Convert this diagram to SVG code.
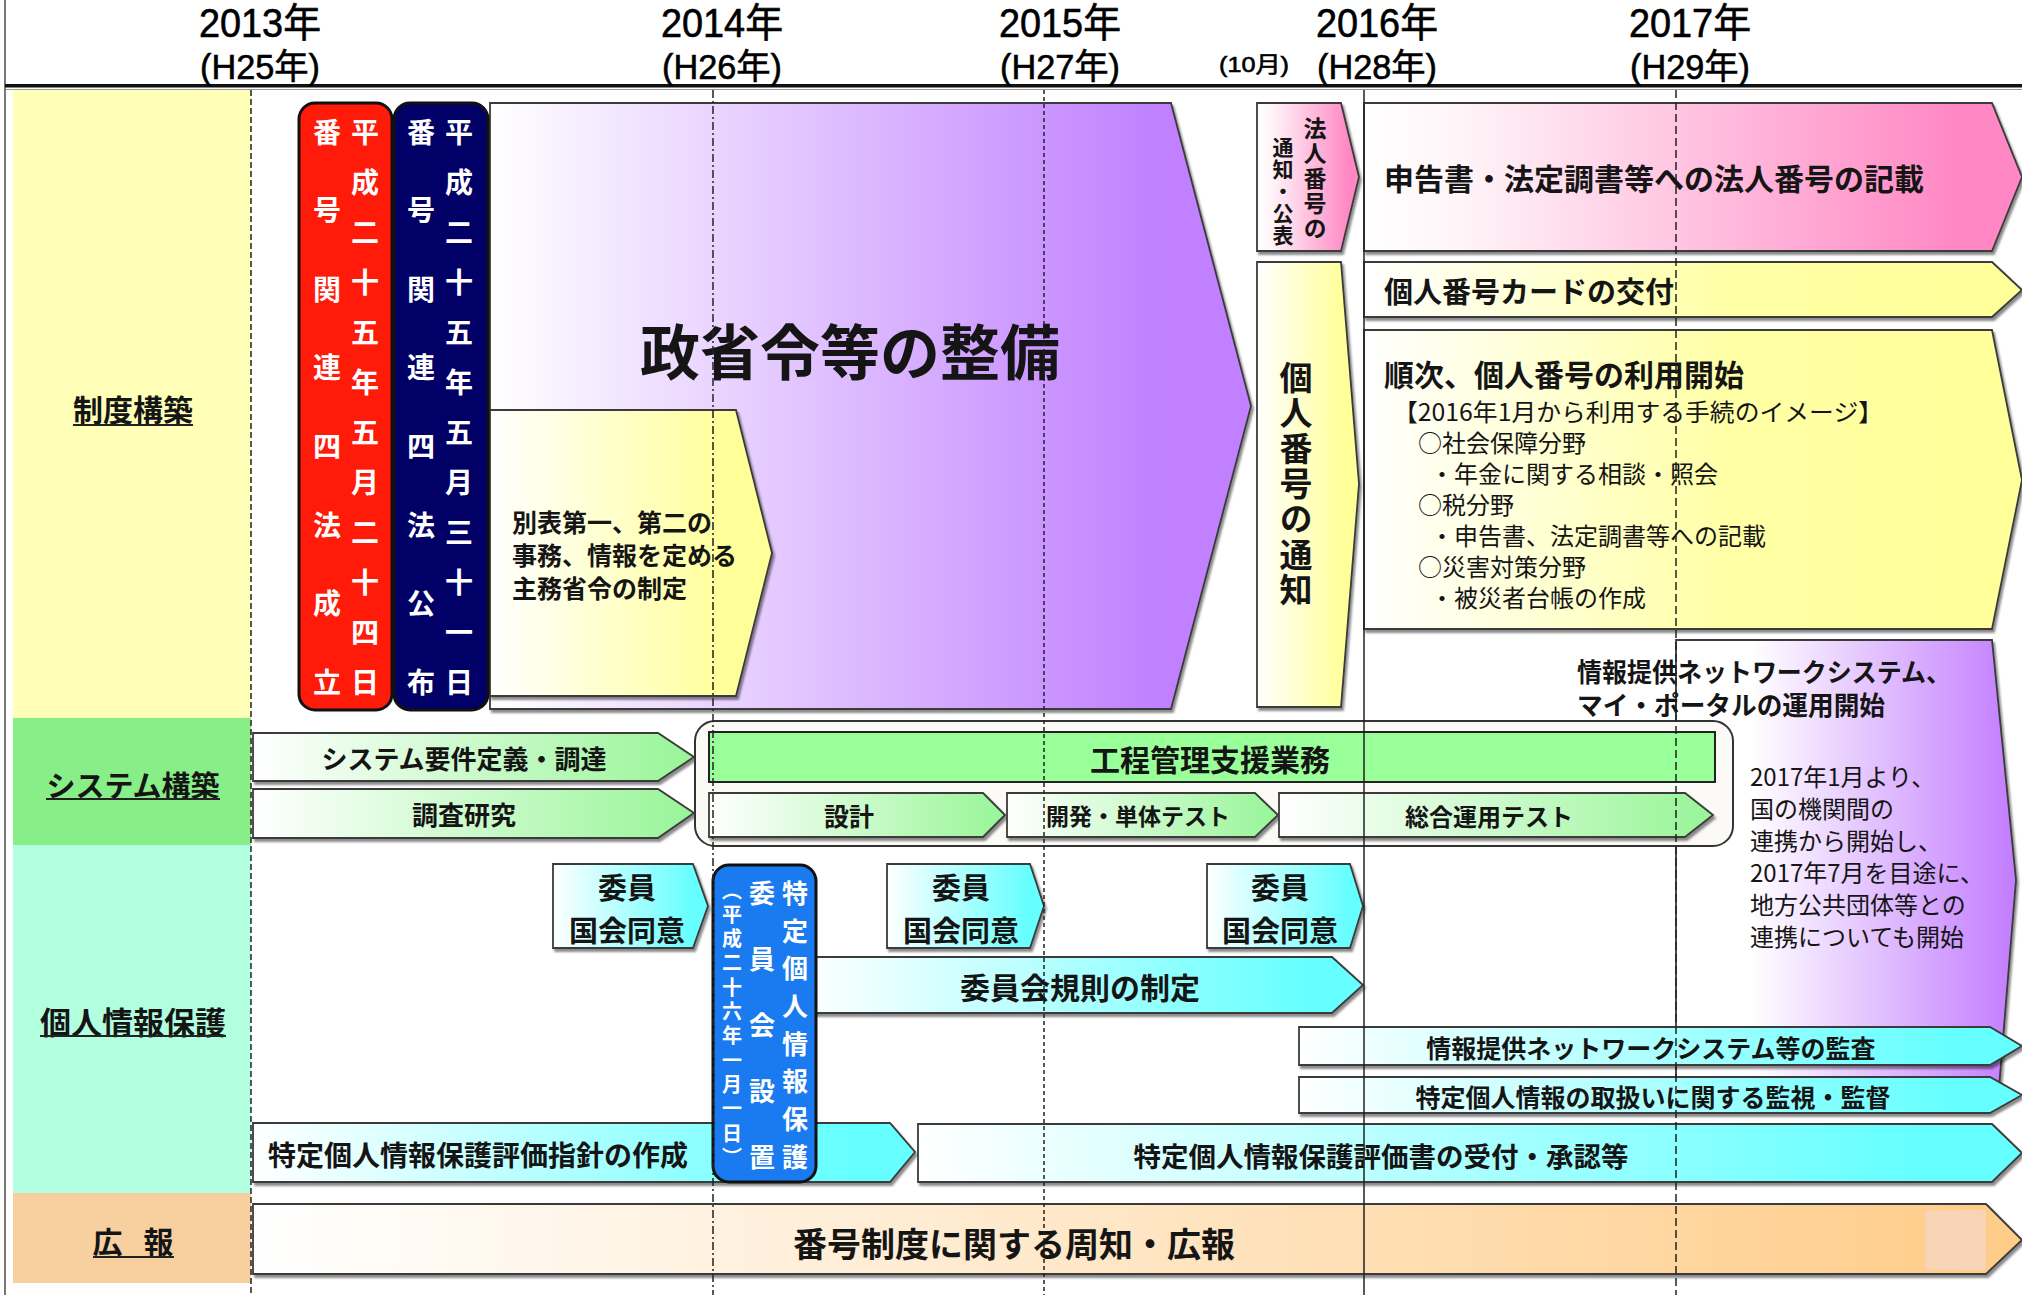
<svg xmlns="http://www.w3.org/2000/svg" width="2022" height="1295" viewBox="0 0 2022 1295">
<defs>
<style>
.jp{font-family:"Noto Sans CJK JP","Noto Sans CJK SC",sans-serif;}
.b{font-weight:bold;fill:#151515;}
.n{font-weight:normal;fill:#151515;}
.w{font-weight:bold;fill:#ffffff;}
.c{text-anchor:middle;dominant-baseline:central;}
.s{dominant-baseline:central;}
.v{writing-mode:vertical-rl;text-anchor:start;}
.hd{font-family:"Liberation Sans","Noto Sans CJK JP",sans-serif;fill:#000;stroke:#000;stroke-width:0.6;text-anchor:middle;}
.ar{stroke:#3a3a3a;stroke-width:1.8;filter:url(#sh);}
.ul{stroke:#222;stroke-width:2;}
.gl{fill:none;stroke:#222;stroke-width:1.5;}
</style>
<filter id="sh" x="-5%" y="-10%" width="115%" height="130%">
<feDropShadow dx="2" dy="3" stdDeviation="1.2" flood-color="#000" flood-opacity="0.45"/>
</filter>
<linearGradient id="gPur" x1="0" y1="0" x2="1" y2="0"><stop offset="0" stop-color="#ffffff"/><stop offset="0.88" stop-color="#c080ff"/></linearGradient>
<linearGradient id="gPur2" x1="0" y1="0" x2="1" y2="0"><stop offset="0" stop-color="#ffffff"/><stop offset="0.22" stop-color="#ffffff"/><stop offset="1" stop-color="#c27cff"/></linearGradient>
<linearGradient id="gYel" x1="0" y1="0" x2="1" y2="0"><stop offset="0" stop-color="#ffffff"/><stop offset="0.85" stop-color="#ffff99"/></linearGradient>
<linearGradient id="gYel2" x1="0" y1="0" x2="1" y2="0"><stop offset="0" stop-color="#ffffff"/><stop offset="0.55" stop-color="#ffffa6"/><stop offset="1" stop-color="#ffff99"/></linearGradient>
<linearGradient id="gPink" x1="0" y1="0" x2="1" y2="0"><stop offset="0" stop-color="#ffffff"/><stop offset="0.15" stop-color="#fff4f8"/><stop offset="0.9" stop-color="#ff88c4"/></linearGradient>
<linearGradient id="gGrn" x1="0" y1="0" x2="1" y2="0"><stop offset="0" stop-color="#ffffff"/><stop offset="1" stop-color="#98f598"/></linearGradient>
<linearGradient id="gCyan" x1="0" y1="0" x2="1" y2="0"><stop offset="0" stop-color="#ffffff"/><stop offset="0.9" stop-color="#66ffff"/></linearGradient>
<linearGradient id="gPeach" x1="0" y1="0" x2="1" y2="0"><stop offset="0" stop-color="#ffffff"/><stop offset="1" stop-color="#ffcc88"/></linearGradient>
</defs>

<rect x="0" y="0" width="2022" height="1295" fill="#ffffff"/>

<g id="header">
<line x1="5" y1="0" x2="5" y2="1295" stroke="#777" stroke-width="2"/>
<rect x="5" y="84" width="2017" height="3.5" fill="#111"/>
<line x1="5" y1="89.5" x2="2022" y2="89.5" stroke="#999" stroke-width="1"/>
<text class="hd" x="260" y="37" font-size="40" textLength="122" lengthAdjust="spacingAndGlyphs">2013年</text>
<text class="hd" x="260" y="79" font-size="35" textLength="120" lengthAdjust="spacingAndGlyphs">(H25年)</text>
<text class="hd" x="722" y="37" font-size="40" textLength="122" lengthAdjust="spacingAndGlyphs">2014年</text>
<text class="hd" x="722" y="79" font-size="35" textLength="120" lengthAdjust="spacingAndGlyphs">(H26年)</text>
<text class="hd" x="1060" y="37" font-size="40" textLength="122" lengthAdjust="spacingAndGlyphs">2015年</text>
<text class="hd" x="1060" y="79" font-size="35" textLength="120" lengthAdjust="spacingAndGlyphs">(H27年)</text>
<text class="hd" x="1254" y="72" font-size="22" textLength="70" lengthAdjust="spacingAndGlyphs">(10月)</text>
<text class="hd" x="1377" y="37" font-size="40" textLength="122" lengthAdjust="spacingAndGlyphs">2016年</text>
<text class="hd" x="1377" y="79" font-size="35" textLength="120" lengthAdjust="spacingAndGlyphs">(H28年)</text>
<text class="hd" x="1690" y="37" font-size="40" textLength="122" lengthAdjust="spacingAndGlyphs">2017年</text>
<text class="hd" x="1690" y="79" font-size="35" textLength="120" lengthAdjust="spacingAndGlyphs">(H29年)</text>
</g>

<g id="lbl-seido">
<rect x="13" y="90" width="238" height="628" fill="#ffffb8"/>
<text class="jp b c" x="133" y="408" font-size="30">制度構築</text>
<line class="ul" x1="73" y1="425" x2="193" y2="425"/>
</g>
<g id="lbl-system">
<rect x="13" y="718" width="238" height="127" fill="#88ee88"/>
<text class="jp b c" x="133" y="784" font-size="29">システム構築</text>
<line class="ul" x1="46" y1="799" x2="220" y2="799"/>
</g>
<g id="lbl-privacy">
<rect x="13" y="845" width="238" height="348" fill="#b2ffe0"/>
<text class="jp b c" x="133" y="1020" font-size="31">個人情報保護</text>
<line class="ul" x1="40" y1="1036" x2="226" y2="1036"/>
</g>
<g id="lbl-koho">
<rect x="13" y="1193" width="238" height="90" fill="#f8d0a0"/>
<text class="jp b c" x="133" y="1240" font-size="30" word-spacing="14">広 報</text>
<line class="ul" x1="93" y1="1257" x2="174" y2="1257"/>
</g>

<g id="n-seishorei">
<polygon class="ar" points="490,103 1171,103 1251,406 1171,709 490,709" fill="url(#gPur)"/>
<text class="jp b c" x="850" y="348" font-size="60">政省令等の整備</text>
</g>
<g id="n-beppyo">
<polygon class="ar" points="490,410 736,410 772,553 736,696 490,696" fill="url(#gYel)"/>
<text class="jp b s" font-size="25"><tspan x="512" y="521">別表第一、第二の</tspan><tspan x="512" y="554">事務、情報を定める</tspan><tspan x="512" y="587">主務省令の制定</tspan></text>
</g>
<g id="n-seiritsu">
<rect x="299" y="103" width="93" height="607" rx="16" fill="#ff1a0a" stroke="#111" stroke-width="3"/>
<text class="jp w v" x="365" y="118" font-size="28" letter-spacing="22">平成二十五年五月二十四日</text>
<text class="jp w v" x="327" y="118" font-size="28" letter-spacing="50.6">番号関連四法成立</text>
</g>
<g id="n-kofu">
<rect x="394" y="103" width="94" height="607" rx="16" fill="#000066" stroke="#111" stroke-width="3"/>
<text class="jp w v" x="459" y="118" font-size="28" letter-spacing="22">平成二十五年五月三十一日</text>
<text class="jp w v" x="421" y="118" font-size="28" letter-spacing="50.6">番号関連四法公布</text>
</g>

<g id="n-hojin-tsuchi">
<polygon class="ar" points="1257,103 1341,103 1359,177 1341,251 1257,251" fill="url(#gPink)"/>
<text class="jp b v" x="1315" y="117" font-size="23" letter-spacing="2">法人番号の</text>
<text class="jp b v" x="1283" y="137" font-size="21" letter-spacing="1">通知・公表</text>
</g>
<g id="n-kojin-tsuchi">
<polygon class="ar" points="1257,262 1341,262 1359,484 1341,707 1257,707" fill="url(#gYel)"/>
<text class="jp b v" x="1296" y="361" font-size="33" letter-spacing="2.3">個人番号の通知</text>
</g>
<g id="n-hojin-kisai">
<polygon class="ar" points="1364,103 1992,103 2022,177 1992,251 1364,251" fill="url(#gPink)"/>
<text class="jp b s" x="1384" y="177" font-size="30">申告書・法定調書等への法人番号の記載</text>
</g>
<g id="n-card">
<polygon class="ar" points="1364,262 1992,262 2022,290 1992,317 1364,317" fill="url(#gYel2)"/>
<text class="jp b s" x="1384" y="290" font-size="29">個人番号カードの交付</text>
</g>
<g id="n-riyo">
<polygon class="ar" points="1364,330 1992,330 2022,480 1992,629 1364,629" fill="url(#gYel2)"/>
<text class="jp b s" x="1384" y="373" font-size="30">順次、個人番号の利用開始</text>
<text class="jp n s" font-size="24"><tspan x="1393" y="410" textLength="490" lengthAdjust="spacingAndGlyphs">【2016年1月から利用する手続のイメージ】</tspan><tspan x="1418" y="441">○社会保障分野</tspan><tspan x="1430" y="472">・年金に関する相談・照会</tspan><tspan x="1418" y="503">○税分野</tspan><tspan x="1430" y="534">・申告書、法定調書等への記載</tspan><tspan x="1418" y="565">○災害対策分野</tspan><tspan x="1430" y="596">・被災者台帳の作成</tspan></text>
</g>
<g id="n-network">
<polygon class="ar" points="1676,640 1992,640 2016,880 1998,1100 1676,1100" fill="url(#gPur2)"/>
<text class="jp b s" font-size="26"><tspan x="1577" y="670" textLength="374" lengthAdjust="spacingAndGlyphs">情報提供ネットワークシステム、</tspan><tspan x="1577" y="703" textLength="308" lengthAdjust="spacingAndGlyphs">マイ・ポータルの運用開始</tspan></text>
<text class="jp n s" font-size="24"><tspan x="1750" y="775">2017年1月より、</tspan><tspan x="1750" y="807">国の機関間の</tspan><tspan x="1750" y="839">連携から開始し、</tspan><tspan x="1750" y="871">2017年7月を目途に、</tspan><tspan x="1750" y="903">地方公共団体等との</tspan><tspan x="1750" y="935">連携についても開始</tspan></text>
</g>

<g id="n-youken">
<polygon class="ar" points="253,733 658,733 694,757 658,781 253,781" fill="url(#gGrn)"/>
<text class="jp b c" x="464" y="757" font-size="26">システム要件定義・調達</text>
</g>
<g id="n-chosa">
<polygon class="ar" points="253,789 658,789 694,813 658,838 253,838" fill="url(#gGrn)"/>
<text class="jp b c" x="464" y="813" font-size="26">調査研究</text>
</g>
<g id="n-kotei">
<rect x="695" y="721" width="1038" height="125" rx="20" fill="#fbfaf7" stroke="#333" stroke-width="2"/>
<rect x="709" y="732" width="1006" height="50" fill="#99ff99" stroke="#222" stroke-width="2"/>
<text class="jp b c" x="1210" y="758" font-size="30">工程管理支援業務</text>
</g>
<g id="n-sekkei">
<polygon class="ar" points="709,793 983,793 1005,815 983,837 709,837" fill="url(#gGrn)"/>
<text class="jp b c" x="849" y="815" font-size="25">設計</text>
</g>
<g id="n-kaihatsu">
<polygon class="ar" points="1007,793 1255,793 1278,815 1255,837 1007,837" fill="url(#gGrn)"/>
<text class="jp b c" x="1138" y="815" font-size="23">開発・単体テスト</text>
</g>
<g id="n-sogo">
<polygon class="ar" points="1279,793 1685,793 1713,815 1685,837 1279,837" fill="url(#gGrn)"/>
<text class="jp b c" x="1489" y="815" font-size="24">総合運用テスト</text>
</g>

<g id="n-doi1">
<polygon class="ar" points="553,864 693,864 708,906 693,948 553,948" fill="url(#gCyan)"/>
<text class="jp b c" font-size="29"><tspan x="627" y="886">委員</tspan><tspan x="627" y="929">国会同意</tspan></text>
</g>
<g id="n-doi2">
<polygon class="ar" points="887,864 1030,864 1044,906 1030,948 887,948" fill="url(#gCyan)"/>
<text class="jp b c" font-size="29"><tspan x="961" y="886">委員</tspan><tspan x="961" y="929">国会同意</tspan></text>
</g>
<g id="n-doi3">
<polygon class="ar" points="1207,864 1350,864 1363,906 1350,948 1207,948" fill="url(#gCyan)"/>
<text class="jp b c" font-size="29"><tspan x="1280" y="886">委員</tspan><tspan x="1280" y="929">国会同意</tspan></text>
</g>
<g id="n-kisoku">
<polygon class="ar" points="800,957 1332,957 1363,985 1332,1013 800,1013" fill="url(#gCyan)"/>
<text class="jp b c" x="1080" y="986" font-size="30">委員会規則の制定</text>
</g>
<g id="n-kansa">
<polygon class="ar" points="1299,1027 1990,1027 2022,1046 1990,1065 1299,1065" fill="url(#gCyan)"/>
<text class="jp b c" x="1651" y="1047" font-size="25">情報提供ネットワークシステム等の監査</text>
</g>
<g id="n-kanshi">
<polygon class="ar" points="1299,1077 1990,1077 2022,1095 1990,1113 1299,1113" fill="url(#gCyan)"/>
<text class="jp b c" x="1653" y="1096" font-size="25">特定個人情報の取扱いに関する監視・監督</text>
</g>
<g id="n-shishin">
<polygon class="ar" points="253,1123 890,1123 915,1152 890,1182 253,1182" fill="url(#gCyan)"/>
<text class="jp b s" x="268" y="1154" font-size="28">特定個人情報保護評価指針の作成</text>
</g>
<g id="n-uketsuke">
<polygon class="ar" points="918,1124 1992,1124 2022,1153 1992,1182 918,1182" fill="url(#gCyan)"/>
<text class="jp b c" x="1381" y="1155" font-size="27.5">特定個人情報保護評価書の受付・承認等</text>
</g>
<g id="n-iinkai">
<rect x="713" y="865" width="103" height="317" rx="16" fill="#1a7af0" stroke="#111" stroke-width="3"/>
<text class="jp w v" x="795" y="880" font-size="26" letter-spacing="11.7">特定個人情報保護</text>
<text class="jp w v" x="762" y="880" font-size="26" letter-spacing="40">委員会設置</text>
<text class="jp w v" x="732" y="880" font-size="20" letter-spacing="4.3">（平成二十六年一月一日）</text>
</g>

<g id="n-koho">
<polygon class="ar" points="253,1204 1986,1204 2022,1240 1986,1274 253,1274" fill="url(#gPeach)"/>
<rect x="1925" y="1210" width="61" height="60" fill="#f9d3b5"/>
<text class="jp b c" x="1014" y="1242" font-size="34">番号制度に関する周知・広報</text>
</g>

<g id="grid">
<line class="gl" x1="251" y1="90" x2="251" y2="1295" stroke-dasharray="6 3"/>
<line class="gl" x1="713" y1="90" x2="713" y2="1295" stroke-dasharray="8 3 2 3"/>
<line class="gl" x1="1044" y1="90" x2="1044" y2="1295" stroke-dasharray="4 3"/>
<line class="gl" x1="1364" y1="90" x2="1364" y2="1295" stroke-width="2"/>
<line class="gl" x1="1676" y1="90" x2="1676" y2="1295" stroke-dasharray="8 4"/>
</g>
</svg>
